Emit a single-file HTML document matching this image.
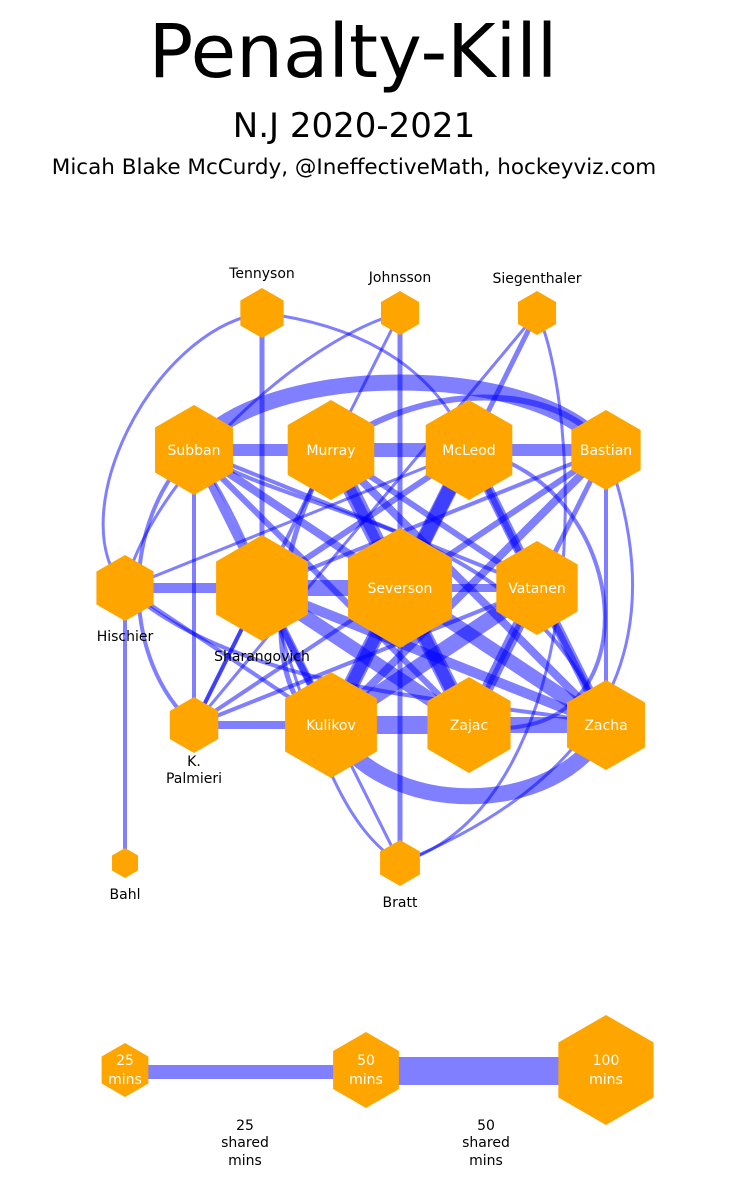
<!DOCTYPE html>
<html><head><meta charset="utf-8"><style>
body{margin:0;background:#fff;width:730px;height:1194px;overflow:hidden}
svg{display:block}
text{font-family:"DejaVu Sans","Liberation Sans",sans-serif}
</style></head><body>
<svg width="730" height="1194" viewBox="0 0 730 1194" xmlns="http://www.w3.org/2000/svg">
<defs>
<symbol id="hx" viewBox="-1 -1 2 2" overflow="visible"><polygon points="0,-1 0.866,-0.5 0.866,0.5 0,1 -0.866,0.5 -0.866,-0.5" fill="#ffa500"/></symbol>
</defs>
<text x="353" y="77" font-size="74" text-anchor="middle">Penalty-Kill</text>
<text x="354" y="137" font-size="34" text-anchor="middle">N.J 2020-2021</text>
<text x="354" y="174" font-size="21.5" text-anchor="middle">Micah Blake McCurdy, @IneffectiveMath, hockeyviz.com</text>

<g stroke="#0000ff" stroke-opacity="0.5" fill="none">
<path d="M194,450 C260,360 540,360 606,450" stroke-width="16"/>
<path d="M331,725 C380,820 560,820 606,725" stroke-width="16"/>
<path d="M194,450 C120,520 120,660 194,725" stroke-width="4"/>
<path d="M262,313 C150,330 60,520 125,588" stroke-width="3"/>
<path d="M537,313 C580,400 600,800 400,863" stroke-width="3"/>
<path d="M331,450 C420,380 560,380 606,450" stroke-width="6"/>
<path d="M194,450 C300,520 520,520 606,725" stroke-width="4"/>
<path d="M125,588 C250,700 500,700 606,725" stroke-width="4"/>
<path d="M469,450 C640,480 660,760 469,725" stroke-width="4"/>
<path d="M194,450 C300,600 300,800 400,863" stroke-width="3"/>
<path d="M606,450 C660,600 650,760 400,863" stroke-width="3"/>
<path d="M331,450 C250,600 280,720 331,725" stroke-width="5"/>
<path d="M262,313 C400,330 450,400 469,450" stroke-width="3"/>
<path d="M400,313 C300,340 150,480 125,588" stroke-width="3"/>
<line x1="262" y1="313" x2="262" y2="588" stroke-width="5"/>
<line x1="400" y1="313" x2="400" y2="863" stroke-width="5"/>
<line x1="400" y1="313" x2="331" y2="450" stroke-width="3"/>
<line x1="537" y1="313" x2="469" y2="450" stroke-width="5"/>
<line x1="537" y1="313" x2="194" y2="725" stroke-width="3"/>
<line x1="125" y1="588" x2="125" y2="863" stroke-width="4"/>
<line x1="606" y1="450" x2="606" y2="725" stroke-width="4"/>
<line x1="194" y1="450" x2="331" y2="450" stroke-width="12"/>
<line x1="331" y1="450" x2="469" y2="450" stroke-width="14"/>
<line x1="469" y1="450" x2="606" y2="450" stroke-width="12"/>
<line x1="125" y1="588" x2="262" y2="588" stroke-width="10"/>
<line x1="262" y1="588" x2="400" y2="588" stroke-width="16"/>
<line x1="400" y1="588" x2="537" y2="588" stroke-width="8"/>
<line x1="194" y1="725" x2="331" y2="725" stroke-width="8"/>
<line x1="331" y1="725" x2="469" y2="725" stroke-width="18"/>
<line x1="469" y1="725" x2="606" y2="725" stroke-width="16"/>
<line x1="194" y1="450" x2="194" y2="725" stroke-width="4"/>
<line x1="194" y1="450" x2="400" y2="588" stroke-width="8"/>
<line x1="194" y1="450" x2="331" y2="725" stroke-width="8"/>
<line x1="194" y1="450" x2="469" y2="725" stroke-width="6"/>
<line x1="194" y1="450" x2="537" y2="588" stroke-width="4"/>
<line x1="331" y1="450" x2="400" y2="588" stroke-width="10"/>
<line x1="331" y1="450" x2="469" y2="725" stroke-width="16"/>
<line x1="331" y1="450" x2="606" y2="725" stroke-width="8"/>
<line x1="331" y1="450" x2="537" y2="588" stroke-width="6"/>
<line x1="331" y1="450" x2="194" y2="725" stroke-width="4"/>
<line x1="469" y1="450" x2="400" y2="588" stroke-width="14"/>
<line x1="469" y1="450" x2="331" y2="725" stroke-width="16"/>
<line x1="469" y1="450" x2="262" y2="588" stroke-width="6"/>
<line x1="469" y1="450" x2="606" y2="725" stroke-width="10"/>
<line x1="469" y1="450" x2="537" y2="588" stroke-width="6"/>
<line x1="606" y1="450" x2="400" y2="588" stroke-width="6"/>
<line x1="606" y1="450" x2="331" y2="725" stroke-width="8"/>
<line x1="606" y1="450" x2="262" y2="588" stroke-width="4"/>
<line x1="606" y1="450" x2="469" y2="725" stroke-width="5"/>
<line x1="262" y1="588" x2="469" y2="725" stroke-width="14"/>
<line x1="262" y1="588" x2="606" y2="725" stroke-width="10"/>
<line x1="262" y1="588" x2="331" y2="725" stroke-width="6"/>
<line x1="262" y1="588" x2="194" y2="725" stroke-width="4"/>
<line x1="400" y1="588" x2="331" y2="725" stroke-width="12"/>
<line x1="400" y1="588" x2="469" y2="725" stroke-width="12"/>
<line x1="400" y1="588" x2="606" y2="725" stroke-width="14"/>
<line x1="537" y1="588" x2="331" y2="725" stroke-width="16"/>
<line x1="537" y1="588" x2="469" y2="725" stroke-width="12"/>
<line x1="537" y1="588" x2="606" y2="725" stroke-width="6"/>
<line x1="537" y1="588" x2="194" y2="725" stroke-width="4"/>
<line x1="125" y1="588" x2="331" y2="725" stroke-width="4"/>
<line x1="125" y1="588" x2="469" y2="450" stroke-width="3"/>
<line x1="331" y1="725" x2="400" y2="863" stroke-width="3"/>
<line x1="194" y1="725" x2="400" y2="588" stroke-width="4"/>
</g>

<g>
<use href="#hx" x="237" y="288" width="50" height="50"/>
<use href="#hx" x="378" y="291" width="44" height="44"/>
<use href="#hx" x="515" y="291" width="44" height="44"/>
<use href="#hx" x="149" y="405" width="90" height="90"/>
<use href="#hx" x="281" y="400" width="100" height="100"/>
<use href="#hx" x="419" y="400" width="100" height="100"/>
<use href="#hx" x="566" y="410" width="80" height="80"/>
<use href="#hx" x="92" y="555" width="66" height="66"/>
<use href="#hx" x="209" y="535" width="106" height="106"/>
<use href="#hx" x="340" y="528" width="120" height="120"/>
<use href="#hx" x="490" y="541" width="94" height="94"/>
<use href="#hx" x="166" y="697" width="56" height="56"/>
<use href="#hx" x="278" y="672" width="106" height="106"/>
<use href="#hx" x="421" y="677" width="96" height="96"/>
<use href="#hx" x="561" y="680" width="90" height="90"/>
<use href="#hx" x="110" y="848" width="30" height="30"/>
<use href="#hx" x="377" y="840" width="46" height="46"/>
</g>

<g font-size="14" text-anchor="middle" fill="#fff">
<text x="194" y="455">Subban</text>
<text x="331" y="455">Murray</text>
<text x="469" y="455">McLeod</text>
<text x="606" y="455">Bastian</text>
<text x="400" y="593">Severson</text>
<text x="537" y="593">Vatanen</text>
<text x="331" y="730">Kulikov</text>
<text x="469" y="730">Zajac</text>
<text x="606" y="730">Zacha</text>
</g>
<g font-size="14" text-anchor="middle" fill="#000">
<text x="262" y="278">Tennyson</text>
<text x="400" y="282">Johnsson</text>
<text x="537" y="283">Siegenthaler</text>
<text x="125" y="641">Hischier</text>
<text x="262" y="661">Sharangovich</text>
<text x="194" y="766">K.</text>
<text x="194" y="783">Palmieri</text>
<text x="125" y="899">Bahl</text>
<text x="400" y="907">Bratt</text>
</g>

<line x1="125" y1="1072" x2="366" y2="1072" stroke="#0000ff" stroke-opacity="0.5" stroke-width="14"/>
<line x1="366" y1="1071" x2="606" y2="1071" stroke="#0000ff" stroke-opacity="0.5" stroke-width="28"/>
<use href="#hx" x="98" y="1043" width="54" height="54"/>
<use href="#hx" x="328" y="1030" width="76" height="80"/>
<use href="#hx" x="551" y="1014" width="110" height="112"/>
<g font-size="14" text-anchor="middle" fill="#fff">
<text x="125" y="1065">25</text><text x="125" y="1084">mins</text>
<text x="366" y="1065">50</text><text x="366" y="1084">mins</text>
<text x="606" y="1065">100</text><text x="606" y="1084">mins</text>
</g>
<g font-size="14" text-anchor="middle" fill="#000">
<text x="245" y="1130">25</text><text x="245" y="1147">shared</text><text x="245" y="1165">mins</text>
<text x="486" y="1130">50</text><text x="486" y="1147">shared</text><text x="486" y="1165">mins</text>
</g>
</svg>
</body></html>
